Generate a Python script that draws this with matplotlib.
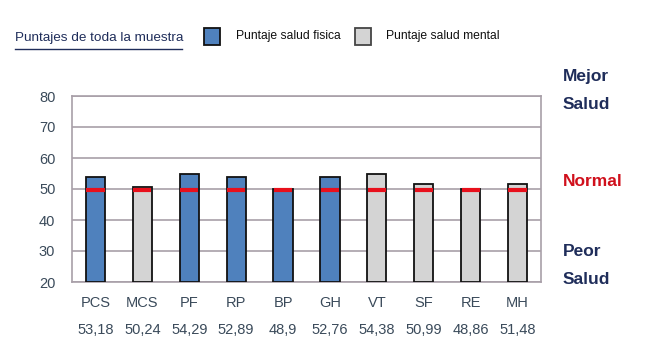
import matplotlib
matplotlib.use("Agg")
import matplotlib.pyplot as plt
from matplotlib.patches import Rectangle
from matplotlib.lines import Line2D

plt.rcParams['font.family'] = ['Liberation Sans', 'DejaVu Sans']

categories = ['PCS', 'MCS', 'PF', 'RP', 'BP', 'GH', 'VT', 'SF', 'RE', 'MH']
score_labels = ['53,18', '50,24', '54,29', '52,89', '48,9', '52,76', '54,38', '50,99', '48,86', '51,48']
bar_heights = [53.8, 50.6, 54.8, 53.8, 50.0, 53.8, 54.8, 51.6, 50.0, 51.6]
is_physical = [True, False, True, True, True, True, False, False, False, False]
normal_level = 49.6

blue = '#4f81bd'
grey = '#d4d4d4'
navy = '#1f2d5a'
frame = '#a89fa8'

fig = plt.figure(figsize=(6.5, 3.57), dpi=100)
ax = fig.add_axes([72 / 650, 1 - 282 / 357, 469 / 650, 186 / 357])

xs = list(range(len(categories)))
colors = [blue if p else grey for p in is_physical]
ax.bar(xs, [h - 20 for h in bar_heights], bottom=20, width=0.41, color=colors,
       edgecolor='#111111', linewidth=1.3, zorder=3)
ax.hlines([normal_level] * len(xs), [x - 0.195 for x in xs], [x + 0.195 for x in xs],
          color='#e8101c', linewidth=3, zorder=4)

ax.set_xlim(-0.5, len(categories) - 0.5)
ax.set_ylim(20, 80)
ax.set_yticks(range(20, 81, 10))
ax.yaxis.grid(True, color=frame, linewidth=1.2, zorder=0)
for s in ax.spines.values():
    s.set_color(frame)
    s.set_linewidth(1.2)
ax.tick_params(axis='y', length=0, pad=12, labelsize=10.5, labelcolor='#3a4a5a')
ax.tick_params(axis='x', length=0, pad=10, labelsize=10.5, labelcolor='#3a4a5a')
ax.set_xticks(xs)
ax.set_xticklabels(categories)
for x, lab in zip(xs, score_labels):
    ax.text(x, -0.26, lab, transform=ax.get_xaxis_transform(), ha='center', va='center',
            fontsize=10.5, color='#3a4a5a')

# right-side annotations
fig.text(563 / 650, 1 - 77 / 357, 'Mejor', fontsize=12.5, fontweight='bold', color=navy, va='center')
fig.text(563 / 650, 1 - 104 / 357, 'Salud', fontsize=12.5, fontweight='bold', color=navy, va='center')
fig.text(563 / 650, 1 - 181 / 357, 'Normal', fontsize=12.5, fontweight='bold', color='#d0101c', va='center')
fig.text(563 / 650, 1 - 252 / 357, 'Peor', fontsize=12.5, fontweight='bold', color=navy, va='center')
fig.text(563 / 650, 1 - 279 / 357, 'Salud', fontsize=12.5, fontweight='bold', color=navy, va='center')

# title and legend
fig.text(15 / 650, 1 - 38 / 357, 'Puntajes de toda la muestra', fontsize=9.7, color=navy, va='center')
fig.add_artist(Line2D([15 / 650, 182 / 650], [1 - 49 / 357] * 2, color=navy, linewidth=1.0))
fig.add_artist(Rectangle((204 / 650, 1 - 45 / 357), 16 / 650, 17 / 357, facecolor=blue,
                         edgecolor='#111111', linewidth=1.3))
fig.text(236 / 650, 1 - 36 / 357, 'Puntaje salud fisica', fontsize=8.7, color='#111111', va='center')
fig.add_artist(Rectangle((355 / 650, 1 - 45 / 357), 16 / 650, 17 / 357, facecolor=grey,
                         edgecolor='#444444', linewidth=1.3))
fig.text(386 / 650, 1 - 36 / 357, 'Puntaje salud mental', fontsize=8.7, color='#111111', va='center')

fig.savefig('out.png', dpi=100)
